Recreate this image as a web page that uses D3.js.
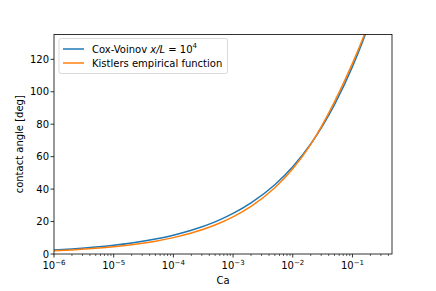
<!DOCTYPE html>
<html>
<head>
<meta charset="utf-8">
<script src="https://cdn.jsdelivr.net/npm/d3@7"></script>
<style>
  body { margin: 0; background: #fff; }
  text { font-family: "DejaVu Sans", sans-serif; fill: #000; }
</style>
</head>
<body>
<div id="canvas"></div>
<script>
// capillary number samples and the two curves
const caValues = [1e-6, 2e-6, 5e-6, 1e-5, 2e-5, 5e-5, 1e-4, 2e-4, 5e-4, 1e-3, 2e-3, 5e-3, 1e-2, 2e-2, 5e-2, 0.1, 0.15, 0.2];
const coxVoinov = [2.50, 3.15, 4.27, 5.38, 6.78, 9.21, 11.6, 14.6, 19.8, 25.0, 31.5, 42.7, 53.8, 67.8, 92.1, 115.5, 131.5, 144];
const kistler = [1.98, 2.53, 3.50, 4.47, 5.71, 7.89, 10.1, 12.9, 17.9, 22.9, 29.3, 40.8, 52.5, 67.6, 93.8, 117.5, 133, 145];
const yTicks = [0, 20, 40, 60, 80, 100, 120];
const xMajor = [1e-6, 1e-5, 1e-4, 1e-3, 1e-2, 1e-1];
const xMajorExp = ["−6", "−5", "−4", "−3", "−2", "−1"];

const width = 436, height = 291;
const m = { left: 54, right: 392, top: 34.5, bottom: 254 };

const svg = d3.select("#canvas").append("svg")
  .attr("width", width).attr("height", height);

const x = d3.scaleLog().domain([1e-6, 0.46]).range([m.left, m.right]);
const y = d3.scaleLinear().domain([0, 135.3]).range([m.bottom, m.top]);

svg.append("clipPath").attr("id", "clip")
  .append("rect").attr("x", m.left).attr("y", m.top)
  .attr("width", m.right - m.left).attr("height", m.bottom - m.top);

const line = d3.line()
  .x(d => x(d[0])).y(d => y(d[1]))
  .curve(d3.curveMonotoneX);

const series = [
  { vals: coxVoinov, color: "#1f77b4" },
  { vals: kistler, color: "#ff7f0e" }
];
const plot = svg.append("g").attr("clip-path", "url(#clip)");
series.forEach(s => {
  plot.append("path")
    .datum(caValues.map((c, i) => [c, s.vals[i]]))
    .attr("fill", "none")
    .attr("stroke", s.color)
    .attr("stroke-width", 1.5)
    .attr("d", line);
});

// x axis: minor ticks from the log scale, major labels drawn by hand for superscripts
const xAxis = svg.append("g").attr("transform", `translate(0,${m.bottom})`);
xAxis.selectAll("line.minor").data(x.ticks().filter(t => !xMajor.some(v => Math.abs(v - t) / v < 1e-6)))
  .enter().append("line")
  .attr("x1", d => x(d)).attr("x2", d => x(d))
  .attr("y1", 0).attr("y2", 2)
  .attr("stroke", "#000").attr("stroke-width", 0.6);
xAxis.selectAll("line.major").data(xMajor).enter().append("line")
  .attr("x1", d => x(d)).attr("x2", d => x(d))
  .attr("y1", 0).attr("y2", 3.5)
  .attr("stroke", "#000").attr("stroke-width", 0.8);
const xl = xAxis.selectAll("text.tl").data(xMajor).enter().append("text")
  .attr("x", d => x(d)).attr("y", 15)
  .attr("text-anchor", "middle")
  .style("font-size", "10px");
xl.append("tspan").text("10");
xl.append("tspan").attr("dy", -4.5).style("font-size", "7px")
  .text((d, i) => xMajorExp[i]);

// y axis
const yAxis = svg.append("g");
yAxis.selectAll("line").data(yTicks).enter().append("line")
  .attr("x1", m.left - 3.5).attr("x2", m.left)
  .attr("y1", d => y(d)).attr("y2", d => y(d))
  .attr("stroke", "#000").attr("stroke-width", 0.8);
yAxis.selectAll("text").data(yTicks).enter().append("text")
  .attr("x", m.left - 5).attr("y", d => y(d) + 3.6)
  .attr("text-anchor", "end")
  .style("font-size", "10px")
  .text(d => d);

// frame
svg.append("rect")
  .attr("x", m.left).attr("y", m.top)
  .attr("width", m.right - m.left).attr("height", m.bottom - m.top)
  .attr("fill", "none").attr("stroke", "#000").attr("stroke-width", 0.8);

svg.append("text")
  .attr("x", (m.left + m.right) / 2).attr("y", 284)
  .attr("text-anchor", "middle").style("font-size", "10px")
  .text("Ca");
svg.append("text")
  .attr("transform", `translate(23,${(m.top + m.bottom) / 2}) rotate(-90)`)
  .attr("text-anchor", "middle").style("font-size", "10px")
  .text("contact angle [deg]");

// legend
const lg = svg.append("g");
lg.append("rect")
  .attr("x", 59).attr("y", 38.5).attr("width", 168.5).attr("height", 35)
  .attr("rx", 2).attr("fill", "#fff").attr("fill-opacity", 0.8)
  .attr("stroke", "#d0d0d0").attr("stroke-width", 0.8);
const legendRows = [
  { color: "#1f77b4", yy: 49 },
  { color: "#ff7f0e", yy: 63 }
];
legendRows.forEach(r => {
  lg.append("line").attr("x1", 63).attr("x2", 84)
    .attr("y1", r.yy).attr("y2", r.yy)
    .attr("stroke", r.color).attr("stroke-width", 1.5);
});
const t1 = lg.append("text").attr("x", 92).attr("y", 52.5).style("font-size", "10px");
t1.append("tspan").text("Cox-Voinov ");
t1.append("tspan").style("font-style", "italic").text("x/L");
t1.append("tspan").text(" = 10");
t1.append("tspan").attr("dy", -4.5).style("font-size", "7px").text("4");
lg.append("text").attr("x", 92).attr("y", 66.5).style("font-size", "10px")
  .text("Kistlers empirical function");
</script>
</body>
</html>
